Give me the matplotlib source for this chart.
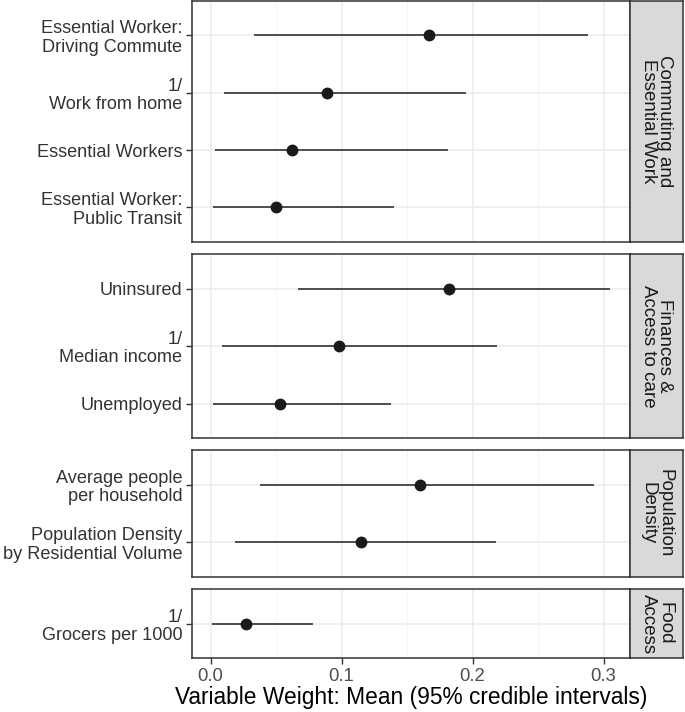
import matplotlib
matplotlib.use("Agg")
import matplotlib.pyplot as plt
import numpy as np

plt.rcParams["font.family"] = ["Liberation Sans", "DejaVu Sans"]

# Facet groups (strip labels) and the variables inside each, top to bottom
groups = [
    "Commuting and\nEssential Work",
    "Finances &\nAccess to care",
    "Population\nDensity",
    "Food\nAccess",
]
labels_commute = ["Essential Worker:\nDriving Commute", "1/\nWork from home",
                  "Essential Workers", "Essential Worker:\nPublic Transit"]
labels_finance = ["Uninsured", "1/\nMedian income", "Unemployed"]
labels_density = ["Average people\nper household",
                  "Population Density\nby Residential Volume"]
labels_food = ["1/\nGrocers per 1000"]

mean_commute = [0.167, 0.0885, 0.062, 0.050]
low_commute = [0.033, 0.010, 0.003, 0.002]
high_commute = [0.288, 0.195, 0.181, 0.140]

mean_finance = [0.182, 0.098, 0.053]
low_finance = [0.067, 0.009, 0.002]
high_finance = [0.305, 0.219, 0.138]

mean_density = [0.160, 0.1145]
low_density = [0.038, 0.019]
high_density = [0.293, 0.218]

mean_food = [0.027]
low_food = [0.001]
high_food = [0.078]

panels = [
    (labels_commute, mean_commute, low_commute, high_commute),
    (labels_finance, mean_finance, low_finance, high_finance),
    (labels_density, mean_density, low_density, high_density),
    (labels_food, mean_food, low_food, high_food),
]

W, H = 685, 712
fig = plt.figure(figsize=(W / 100, H / 100), dpi=100)

left_px, right_px, strip_px = 192, 630, 683
top_px, bottom_px, gap_px = 1, 658, 12.5
units = [len(p[0]) + 0.2 for p in panels]
unit_px = (bottom_px - top_px - gap_px * (len(panels) - 1)) / sum(units)

all_lo = min(min(p[2]) for p in panels)
all_hi = max(max(p[3]) for p in panels)
pad = (all_hi - all_lo) * 0.05
xlim = (all_lo - pad, all_hi + pad)

dark = "#333333"
y_cursor = top_px
axes = []
for i, (labs, means, lows, highs) in enumerate(panels):
    h = units[i] * unit_px
    y0 = H - (y_cursor + h)
    ax = fig.add_axes([left_px / W, y0 / H, (right_px - left_px) / W, h / H])
    sax = fig.add_axes([right_px / W, y0 / H, (strip_px - right_px) / W, h / H])
    y_cursor += h + gap_px

    ys = np.arange(1, len(labs) + 1)
    ax.hlines(ys, lows, highs, color="#222222", lw=1.1, zorder=3)
    ax.plot(means, ys, "o", color="#1a1a1a", ms=7.5, zorder=4)
    ax.set_xlim(*xlim)
    ax.set_ylim(len(labs) + 0.6, 0.4)
    ax.set_yticks(ys)
    ax.set_yticklabels(labs, fontsize=13.1, color="#333333", linespacing=1.1)
    ax.set_xticks([0.0, 0.1, 0.2, 0.3])
    ax.set_xticks([0.05, 0.15, 0.25], minor=True)
    ax.grid(True, which="major", color="#EBEBEB", lw=1.1, zorder=0)
    ax.grid(True, which="minor", axis="x", color="#F2F2F2", lw=0.6, zorder=0)
    ax.tick_params(axis="both", which="major", length=4, width=1, color=dark, pad=3)
    ax.tick_params(axis="x", which="minor", length=0)
    for sp in ax.spines.values():
        sp.set_color(dark)
        sp.set_linewidth(1.1)
    if i < len(panels) - 1:
        ax.tick_params(axis="x", which="major", labelbottom=False, length=0)
    else:
        ax.set_xticklabels(["0.0", "0.1", "0.2", "0.3"], fontsize=13.3, color="#4D4D4D")
        ax.set_xlabel("Variable Weight: Mean (95% credible intervals)",
                      fontsize=16.4, color="black", labelpad=1)
    ax.set_axisbelow(True)

    sax.set_facecolor("#D9D9D9")
    sax.set_xticks([])
    sax.set_yticks([])
    for sp in sax.spines.values():
        sp.set_color(dark)
        sp.set_linewidth(1.1)
    sax.text(0.5, 0.5, groups[i], rotation=-90, ha="center", va="center",
             fontsize=13.5, color="#1A1A1A", linespacing=0.95,
             transform=sax.transAxes)
    axes.append(ax)

fig.savefig("out.png", dpi=100)
